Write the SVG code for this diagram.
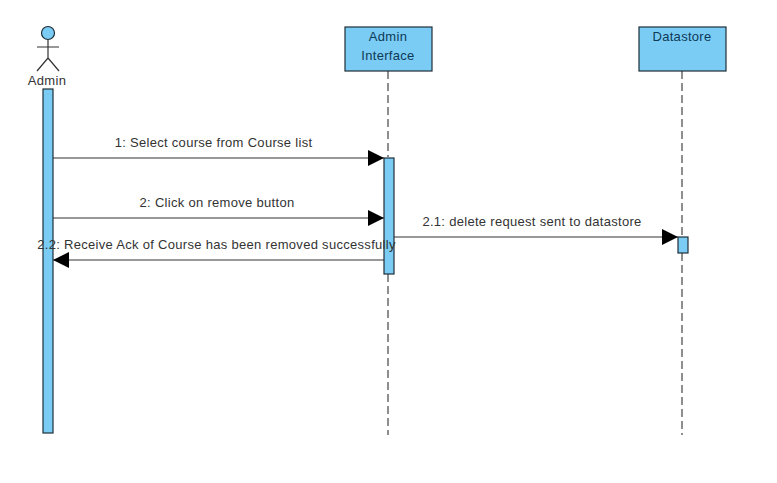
<svg xmlns="http://www.w3.org/2000/svg" width="777" height="483" viewBox="0 0 777 483">
<style>
text{font-family:"Liberation Sans",Arial,sans-serif;font-size:13px;letter-spacing:.3px;fill:#333;text-anchor:middle}
.n{fill:#7accf5;stroke:#1f2d36;stroke-width:1.2}
.h{fill:#0e3a55}
.l{stroke:#333;stroke-width:1.2;fill:none}
.d{stroke:#444;stroke-width:1.2;stroke-dasharray:8 4;fill:none}
</style>
<defs>
<marker id="a" markerUnits="userSpaceOnUse" markerWidth="17" markerHeight="16" refX="16" refY="8" orient="auto"><path d="M0 0L16 8L0 16Z" fill="#000"/></marker>
</defs>
<rect width="777" height="483" fill="#fff"/>
<g id="connectors">
<path class="d" d="M388 71V157M388 274V435"/>
<path class="d" d="M682 71V237M682 253V435"/>
<path class="l" d="M53 158H384" marker-end="url(#a)"/>
<path class="l" d="M53 218H384" marker-end="url(#a)"/>
<path class="l" d="M394 237H678" marker-end="url(#a)"/>
<path class="l" d="M384 260H53" marker-end="url(#a)"/>
</g>
<g id="admin">
<circle class="n" cx="48" cy="33" r="6.5"/>
<path class="l" d="M48 40V58M37 47H59M48 58L37 71M48 58L59 71"/>
<rect class="n" x="43" y="89" width="10" height="344"/>
<text x="47" y="85">Admin</text>
</g>
<g id="admin-interface">
<rect class="n" x="345" y="27" width="87" height="44"/>
<text class="h" x="388" y="41">Admin</text>
<text class="h" x="388" y="60">Interface</text>
<rect class="n" x="384" y="158" width="10" height="116"/>
</g>
<g id="datastore">
<rect class="n" x="639" y="27" width="87" height="44"/>
<text class="h" x="682" y="41">Datastore</text>
<rect class="n" x="678" y="237" width="10" height="16"/>
</g>
<g id="labels">
<text x="213.5" y="147">1: Select course from Course list</text>
<text x="217" y="207">2: Click on remove button</text>
<text x="532" y="226">2.1: delete request sent to datastore</text>
<text x="216.5" y="249">2.2: Receive Ack of Course has been removed successfully</text>
</g>
</svg>
